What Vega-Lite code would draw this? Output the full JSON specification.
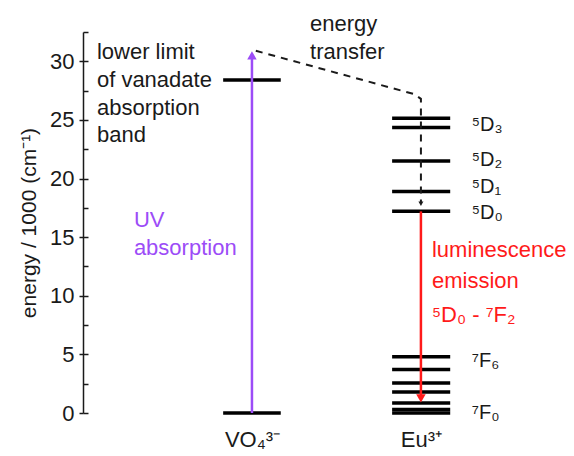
{
  "$schema": "https://vega.github.io/schema/vega-lite/v6.json",
  "autosize": {"type": "none"},
  "padding": {"left": 83, "top": 32, "right": 11, "bottom": 43},
  "width": 480,
  "height": 381,
  "background": "white",
  "config": {
    "view": {"stroke": null},
    "font": "Liberation Sans",
    "axis": {"labelFont": "Liberation Sans", "titleFont": "Liberation Sans"}
  },
  "datasets": {
    "levels": [
      {"species": "VO4", "x1": 2.92, "x2": 4.12, "energy": 0.0},
      {"species": "VO4", "x1": 2.92, "x2": 4.12, "energy": 28.4},
      {"species": "Eu", "x1": 6.44, "x2": 7.65, "energy": 25.15},
      {"species": "Eu", "x1": 6.44, "x2": 7.65, "energy": 24.35},
      {"species": "Eu", "x1": 6.44, "x2": 7.65, "energy": 21.5},
      {"species": "Eu", "x1": 6.44, "x2": 7.65, "energy": 18.9},
      {"species": "Eu", "x1": 6.44, "x2": 7.65, "energy": 17.2},
      {"species": "Eu", "x1": 6.44, "x2": 7.65, "energy": 4.8},
      {"species": "Eu", "x1": 6.44, "x2": 7.65, "energy": 3.7},
      {"species": "Eu", "x1": 6.44, "x2": 7.65, "energy": 2.55},
      {"species": "Eu", "x1": 6.44, "x2": 7.65, "energy": 1.8},
      {"species": "Eu", "x1": 6.44, "x2": 7.65, "energy": 0.85},
      {"species": "Eu", "x1": 6.44, "x2": 7.65, "energy": 0.3},
      {"species": "Eu", "x1": 6.44, "x2": 7.65, "energy": 0.0}
    ],
    "arrows": [
      {"kind": "uv", "x": 3.52, "from": 0.0, "to": 30.3},
      {"kind": "emission", "x": 7.04, "from": 17.2, "to": 1.5}
    ],
    "heads": [
      {"kind": "uv", "x": 3.52, "energy": 30.5, "dir": "up"},
      {"kind": "emission", "x": 7.04, "energy": 1.25, "dir": "down"}
    ],
    "transfer": [
      {"step": 1, "x": 3.6, "energy": 30.9},
      {"step": 2, "x": 6.9, "energy": 27.2},
      {"step": 3, "x": 7.04, "energy": 26.8},
      {"step": 4, "x": 7.04, "energy": 18.0}
    ],
    "transferHead": [
      {"x": 7.04, "energy": 17.85}
    ],
    "notes": [
      {"kind": "black", "text": "lower limit", "x": 0.29, "energy": 30.8},
      {"kind": "black", "text": "of vanadate", "x": 0.29, "energy": 28.4},
      {"kind": "black", "text": "absorption", "x": 0.29, "energy": 26.0},
      {"kind": "black", "text": "band", "x": 0.29, "energy": 23.7},
      {"kind": "black", "text": "energy", "x": 4.73, "energy": 33.2},
      {"kind": "black", "text": "transfer", "x": 4.73, "energy": 30.8},
      {"kind": "uv", "text": "UV", "x": 1.06, "energy": 16.45},
      {"kind": "uv", "text": "absorption", "x": 1.06, "energy": 14.05},
      {"kind": "emission", "text": "luminescence", "x": 7.27, "energy": 13.9},
      {"kind": "emission", "text": "emission", "x": 7.27, "energy": 11.3},
      {"kind": "emission", "text": "⁵D₀ - ⁷F₂", "x": 7.27, "energy": 8.35}
    ],
    "termLabels": [
      {"text": "⁵D₃", "x": 8.1, "energy": 24.6},
      {"text": "⁵D₂", "x": 8.1, "energy": 21.6},
      {"text": "⁵D₁", "x": 8.1, "energy": 19.25},
      {"text": "⁵D₀", "x": 8.1, "energy": 17.1},
      {"text": "⁷F₆", "x": 8.1, "energy": 4.4},
      {"text": "⁷F₀", "x": 8.1, "energy": 0.0}
    ]
  },
  "resolve": {"axis": {"y": "independent"}},
  "layer": [
    {
      "data": {"name": "levels"},
      "mark": {"type": "rule", "strokeWidth": 3.5, "color": "black", "strokeCap": "butt"},
      "encoding": {
        "x": {"field": "x1", "type": "quantitative", "scale": {"domain": [0, 10]}, "axis": {
          "values": [3.52, 7.04],
          "labelExpr": "datum.value < 5 ? 'VO₄³⁻' : 'Eu³⁺'",
          "domain": false, "ticks": false, "grid": false,
          "labelFontSize": 22, "labelColor": "#1a1a1a", "labelPadding": 16,
          "labelFlush": false, "labelOverlap": false,
          "title": null
        }},
        "x2": {"field": "x2"},
        "y": {"field": "energy", "type": "quantitative", "scale": {"domain": [0, 32.5], "nice": false, "zero": false}, "axis": {
          "values": [0, 5, 10, 15, 20, 25, 30],
          "grid": false,
          "domainColor": "#1a1a1a", "domainWidth": 1.5,
          "tickColor": "#1a1a1a", "tickWidth": 1.5, "tickSize": 4,
          "labelFontSize": 22, "labelColor": "#1a1a1a", "labelPadding": 5,
          "title": "energy / 1000 (cm⁻¹)",
          "titleFontSize": 21, "titleFontWeight": "normal", "titleColor": "#1a1a1a", "titlePadding": 10
        }}
      }
    },
    {
      "data": {"name": "levels"},
      "mark": {"type": "point", "opacity": 0},
      "encoding": {
        "x": {"field": "x1", "type": "quantitative"},
        "y": {"field": "energy", "type": "quantitative", "axis": {
          "values": [0, 2.5, 5, 7.5, 10, 12.5, 15, 17.5, 20, 22.5, 25, 27.5, 30, 32.5],
          "orient": "left",
          "grid": false, "domain": false, "labels": false, "title": null,
          "tickColor": "#1a1a1a", "tickWidth": 1.5, "tickSize": -5
        }}
      }
    },
    {
      "data": {"name": "arrows"},
      "mark": {"type": "rule", "strokeWidth": 2.5},
      "encoding": {
        "x": {"field": "x", "type": "quantitative"},
        "y": {"field": "from", "type": "quantitative", "axis": null},
        "y2": {"field": "to"},
        "color": {"field": "kind", "type": "nominal", "scale": {"domain": ["uv", "emission", "black"], "range": ["#9c4cf7", "#ff1a1a", "#1a1a1a"]}, "legend": null}
      }
    },
    {
      "data": {"name": "heads"},
      "mark": {"type": "point", "filled": true, "opacity": 1, "size": 90},
      "encoding": {
        "x": {"field": "x", "type": "quantitative"},
        "y": {"field": "energy", "type": "quantitative", "axis": null},
        "shape": {"field": "dir", "type": "nominal", "scale": {"domain": ["up", "down"], "range": ["triangle-up", "triangle-down"]}, "legend": null},
        "color": {"field": "kind", "type": "nominal", "legend": null}
      }
    },
    {
      "data": {"name": "transfer"},
      "mark": {"type": "line", "strokeWidth": 2, "strokeDash": [7, 6], "color": "#1a1a1a"},
      "encoding": {
        "x": {"field": "x", "type": "quantitative"},
        "y": {"field": "energy", "type": "quantitative", "axis": null},
        "order": {"field": "step", "type": "quantitative"}
      }
    },
    {
      "data": {"name": "transferHead"},
      "mark": {"type": "point", "filled": true, "opacity": 1, "size": 25, "shape": "triangle-down", "color": "#1a1a1a"},
      "encoding": {
        "x": {"field": "x", "type": "quantitative"},
        "y": {"field": "energy", "type": "quantitative", "axis": null}
      }
    },
    {
      "data": {"name": "notes"},
      "mark": {"type": "text", "align": "left", "baseline": "middle", "fontSize": 22, "font": "Liberation Sans"},
      "encoding": {
        "x": {"field": "x", "type": "quantitative"},
        "y": {"field": "energy", "type": "quantitative", "axis": null},
        "text": {"field": "text"},
        "color": {"field": "kind", "type": "nominal", "legend": null}
      }
    },
    {
      "data": {"name": "termLabels"},
      "mark": {"type": "text", "align": "left", "baseline": "middle", "fontSize": 20, "font": "Liberation Sans", "color": "#1a1a1a"},
      "encoding": {
        "x": {"field": "x", "type": "quantitative"},
        "y": {"field": "energy", "type": "quantitative", "axis": null},
        "text": {"field": "text"}
      }
    }
  ]
}
